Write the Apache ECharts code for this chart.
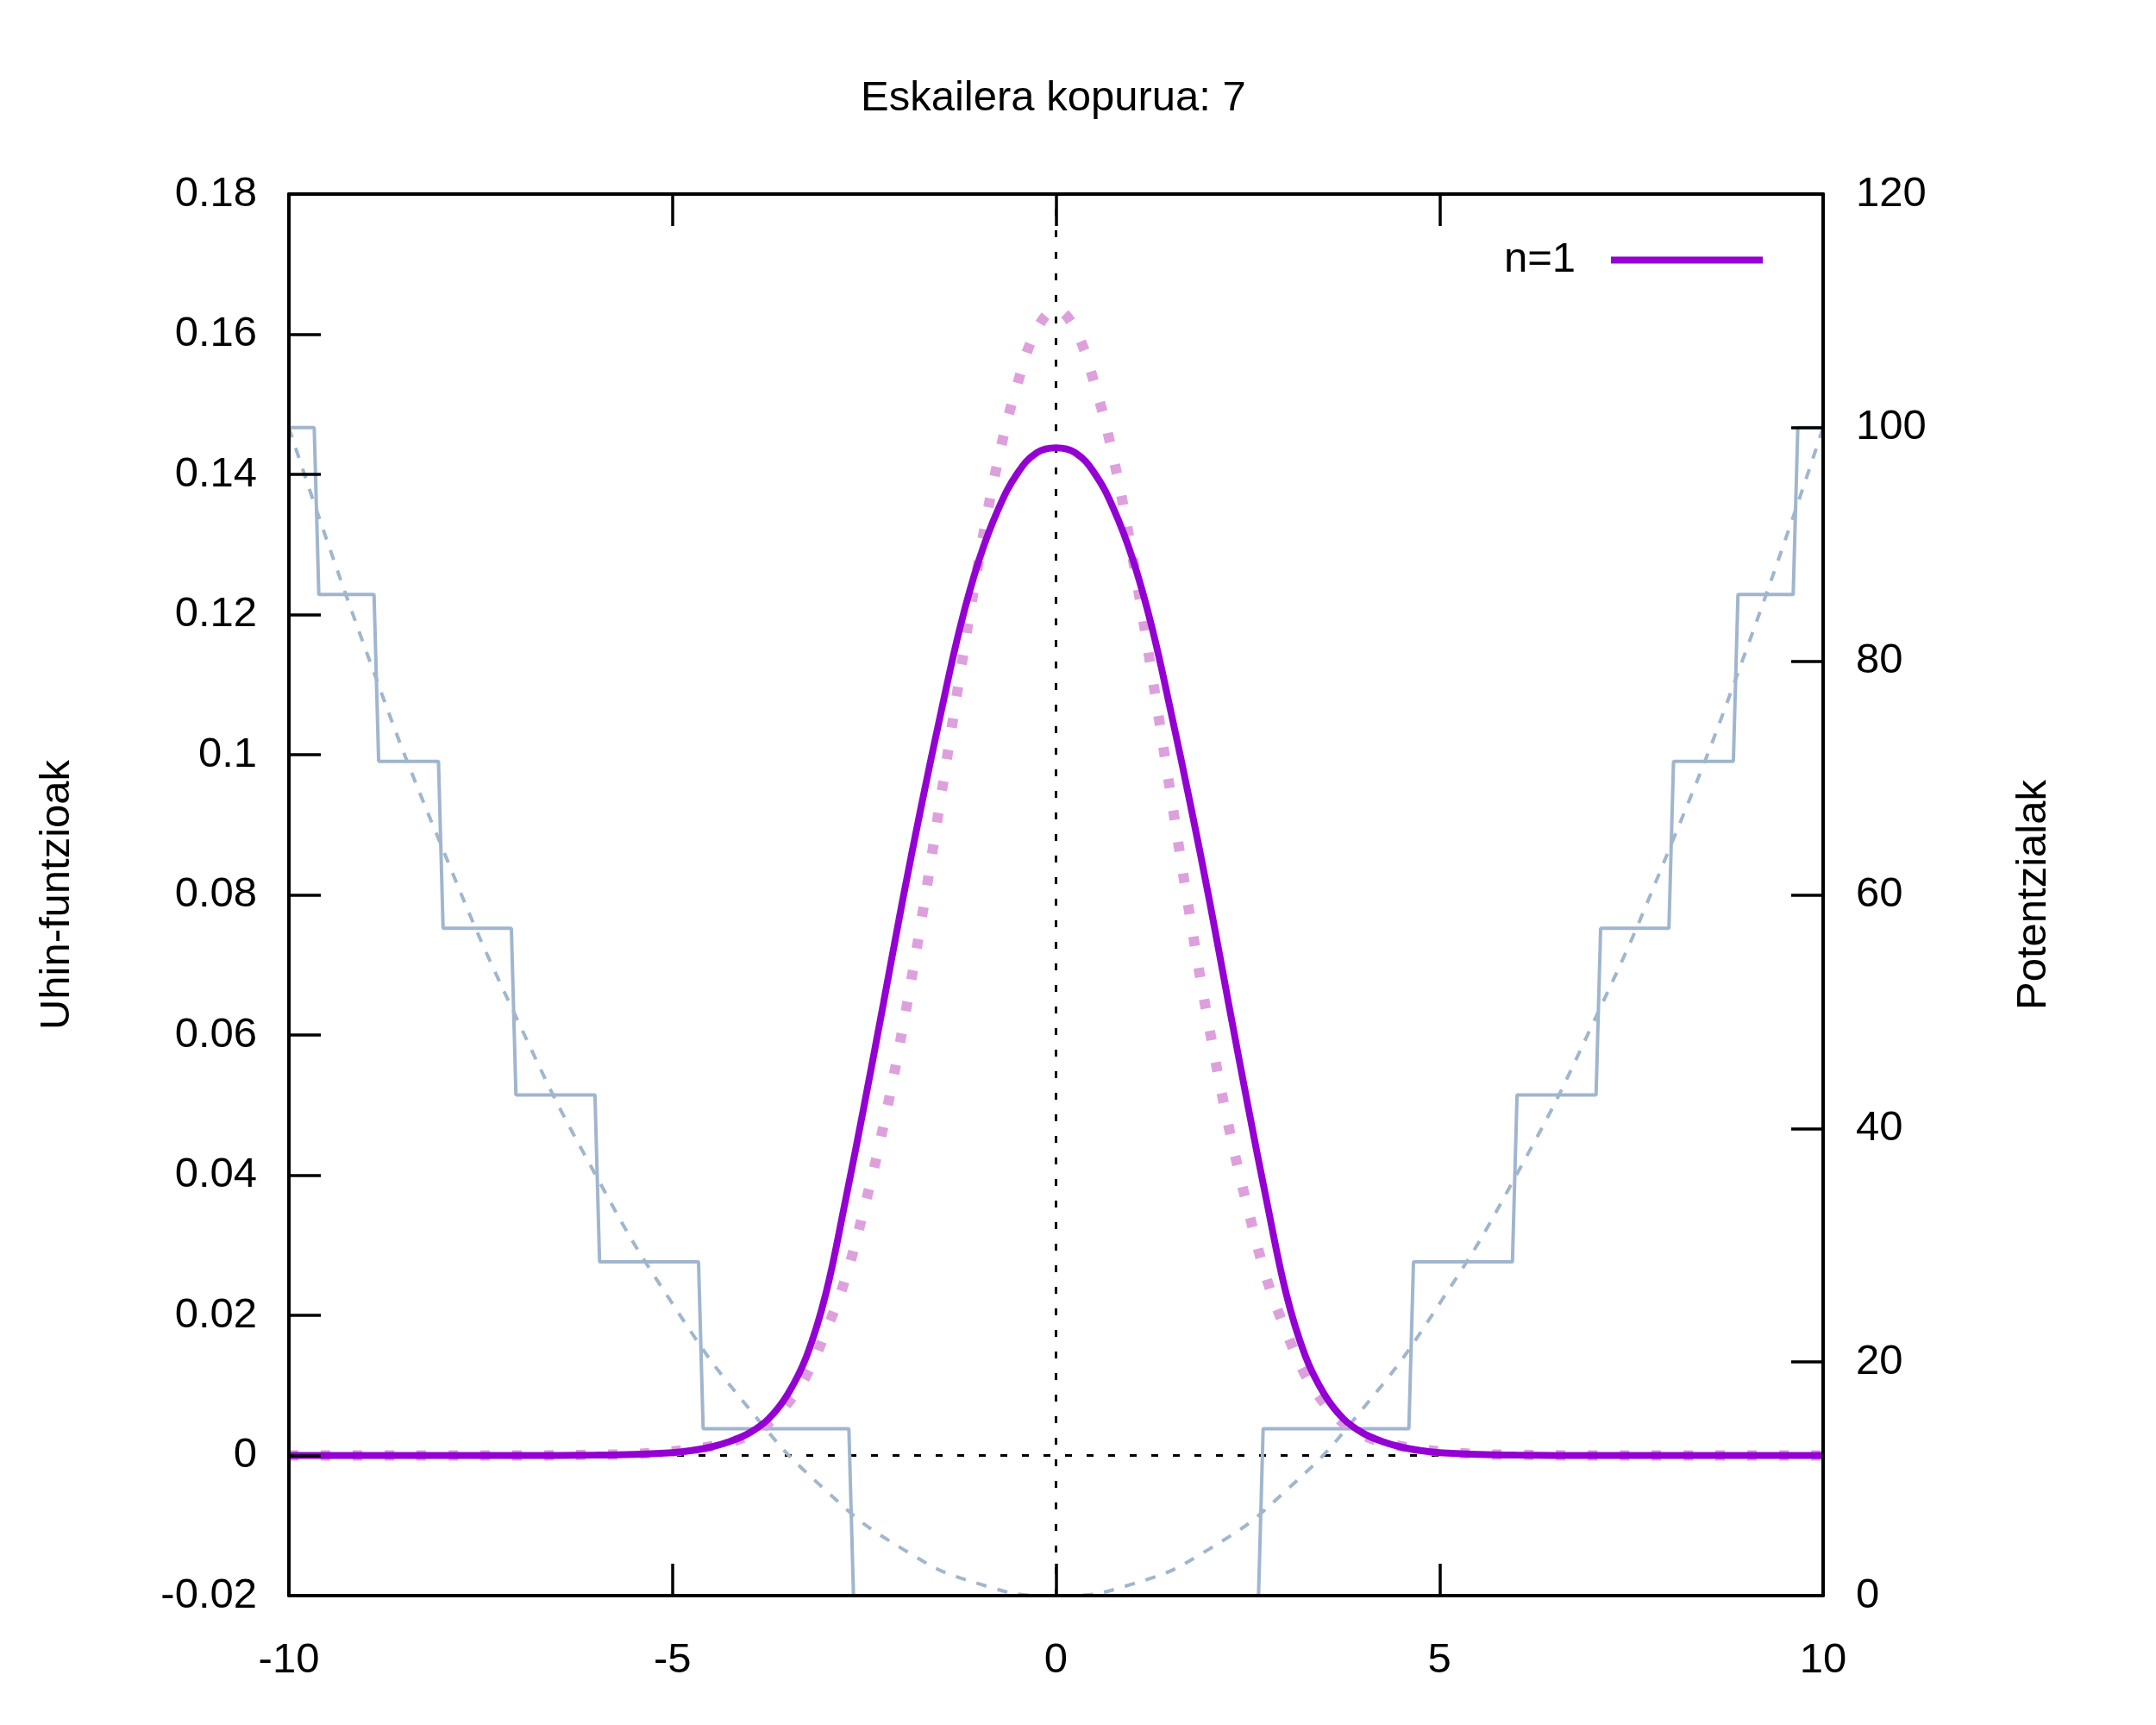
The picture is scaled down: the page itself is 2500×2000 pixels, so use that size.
<!DOCTYPE html>
<html><head><meta charset="utf-8">
<script src="https://cdn.jsdelivr.net/npm/echarts@6/dist/echarts.min.js"></script>
<style>html,body{margin:0;padding:0;background:#fff}#chart{width:2500px;height:2000px}</style>
</head><body><div id="chart"></div>
<script>
// ---- texts ----
const titleText = 'Eskailera kopurua: 7';
const leftAxisName = 'Uhin-funtzioak';
const rightAxisName = 'Potentzialak';
const legendName = 'n=1';

// ---- axis ranges ----
const xRange = [-10, 10, 5];
const leftRange = [-0.02, 0.18, 0.02];
const rightRange = [0, 120, 20];

// ---- wave functions (left axis) ----
const waveX = [-10,-9,-8,-7,-6,-5.5,-5,-4.75,-4.5,-4.25,-4,-3.75,-3.5,-3.25,-3,-2.75,-2.5,-2.25,-2,-1.75,-1.5,-1.25,-1,-0.75,-0.5,-0.25,0,
               0.25,0.5,0.75,1,1.25,1.5,1.75,2,2.25,2.5,2.75,3,3.25,3.5,3.75,4,4.25,4.5,4.75,5,5.5,6,7,8,9,10];
const psiStair = [0,0,0,0,0.00005,0.00015,0.0004,0.0007,0.0012,0.0020,0.0032,0.0052,0.0087,0.0142,0.0231,0.0361,0.0500,0.0645,0.0792,0.0930,0.1060,0.1182,0.1279,0.1351,0.1402,0.1431,0.1438,
                  0.1431,0.1402,0.1351,0.1279,0.1182,0.1060,0.0930,0.0792,0.0645,0.0500,0.0361,0.0231,0.0142,0.0087,0.0052,0.0032,0.0020,0.0012,0.0007,0.0004,0.00015,0.00005,0,0,0,0];
const psiExact = [0,0,0,0,0.0001,0.0002,0.0006,0.0009,0.0013,0.0019,0.0029,0.0046,0.0074,0.0115,0.0177,0.0251,0.0353,0.0470,0.0609,0.0767,0.0940,0.1115,0.1281,0.1423,0.1530,0.1607,0.1635,
                  0.1607,0.1530,0.1423,0.1281,0.1115,0.0940,0.0767,0.0609,0.0470,0.0353,0.0251,0.0177,0.0115,0.0074,0.0046,0.0029,0.0019,0.0013,0.0009,0.0006,0.0002,0.0001,0,0,0,0];

// ---- potentials (right axis) ----
const stepX = [-10,-9.67,-9.61,-8.89,-8.83,-8.05,-7.99,-7.10,-7.04,-6.01,-5.95,-4.66,-4.60,-2.70,-2.64,
               2.64,2.70,4.60,4.66,5.95,6.01,7.04,7.10,7.99,8.05,8.83,8.89,9.61,9.67,10];
const stepV = [100,100,85.71,85.71,71.43,71.43,57.14,57.14,42.86,42.86,28.57,28.57,14.29,14.29,0,
               0,14.29,14.29,28.57,28.57,42.86,42.86,57.14,57.14,71.43,71.43,85.71,85.71,100,100];
const potX = [-10,-9,-8,-7,-6,-5,-4,-3,-2,-1,0,1,2,3,4,5,6,7,8,9,10];
const potV = [100,81,64,49,36,25,16,9,4,1,0,1,4,9,16,25,36,49,64,81,100];

const pair = (xs, ys) => xs.map((x, i) => [x, ys[i]]);

const FONT = 'Liberation Sans, Arial, Helvetica, sans-serif';
const FS = 49;
const purple = '#9400d3', plum = '#dda0dd', steel = '#a0b6ce';

const axisCommon = {
  splitLine: {show: false},
  axisLine: {show: true, onZero: false, lineStyle: {color: '#000', width: 4}},
  axisTick: {show: true, inside: true, length: 37, lineStyle: {color: '#000', width: 3.5}},
  z: 10
};

const chart = echarts.init(document.getElementById('chart'), null, {renderer: 'canvas'});
chart.setOption({
  animation: false,
  backgroundColor: '#fff',
  textStyle: {fontFamily: FONT},
  title: {
    text: titleText, left: 998, top: 90, padding: 0,
    textStyle: {fontFamily: FONT, fontSize: FS, fontWeight: 'normal', color: '#000'}
  },
  legend: {
    data: [{name: legendName, icon: 'rect'}],
    right: 456, top: 277, padding: 0,
    align: 'right', itemWidth: 176, itemHeight: 8,
    textStyle: {fontFamily: FONT, fontSize: FS, color: '#000', padding: [0, 36, 0, 0]},
    selectedMode: false
  },
  grid: {left: 335, right: 386, top: 225, bottom: 150, containLabel: false},
  xAxis: [
    Object.assign({}, axisCommon, {
      type: 'value', position: 'bottom', min: xRange[0], max: xRange[1], interval: xRange[2],
      axisLabel: {show: true, color: '#000', fontSize: FS, fontFamily: FONT, margin: 51}
    }),
    Object.assign({}, axisCommon, {
      type: 'value', position: 'top', min: xRange[0], max: xRange[1], interval: xRange[2],
      axisLabel: {show: false}
    })
  ],
  yAxis: [
    Object.assign({}, axisCommon, {
      type: 'value', position: 'left', min: leftRange[0], max: leftRange[1], interval: leftRange[2],
      axisLabel: {show: true, color: '#000', fontSize: FS, fontFamily: FONT, margin: 37,
        formatter: v => String(+v.toFixed(2))},
      name: leftAxisName, nameLocation: 'middle', nameRotate: 90, nameGap: 244,
      nameTextStyle: {color: '#000', fontSize: FS, fontFamily: FONT}
    }),
    Object.assign({}, axisCommon, {
      type: 'value', position: 'right', min: rightRange[0], max: rightRange[1], interval: rightRange[2],
      axisLabel: {show: true, color: '#000', fontSize: FS, fontFamily: FONT, margin: 38},
      name: rightAxisName, nameLocation: 'middle', nameRotate: 90, nameGap: 220,
      nameTextStyle: {color: '#000', fontSize: FS, fontFamily: FONT}
    })
  ],
  series: [
    {
      name: 'V_step', type: 'line', xAxisIndex: 0, yAxisIndex: 1, z: 2,
      data: pair(stepX, stepV), showSymbol: false, symbol: 'none', clip: true,
      lineStyle: {color: steel, width: 4}, itemStyle: {color: steel}, silent: true
    },
    {
      name: 'V', type: 'line', xAxisIndex: 0, yAxisIndex: 1, z: 2,
      data: pair(potX, potV), smooth: true, symbol: 'none', clip: true,
      lineStyle: {color: steel, width: 4, type: [12, 13]}, itemStyle: {color: steel}, silent: true
    },
    {
      name: 'psi0', type: 'line', xAxisIndex: 0, yAxisIndex: 0, z: 3,
      data: pair(waveX, psiExact), smooth: 0.4, symbol: 'none', clip: true,
      lineStyle: {color: plum, width: 12, type: [11, 26]}, itemStyle: {color: plum}, silent: true,
      markLine: {
        silent: true, symbol: 'none', z: 1, animation: false,
        label: {show: false},
        lineStyle: {color: '#000', width: 3, type: [8, 17]},
        emphasis: {disabled: true},
        data: [{yAxis: 0}, {xAxis: 0}]
      }
    },
    {
      name: legendName, type: 'line', xAxisIndex: 0, yAxisIndex: 0, z: 4,
      data: pair(waveX, psiStair), smooth: 0.4, symbol: 'none', clip: true,
      lineStyle: {color: purple, width: 8}, itemStyle: {color: purple}, silent: true
    }
  ]
});
</script></body></html>
